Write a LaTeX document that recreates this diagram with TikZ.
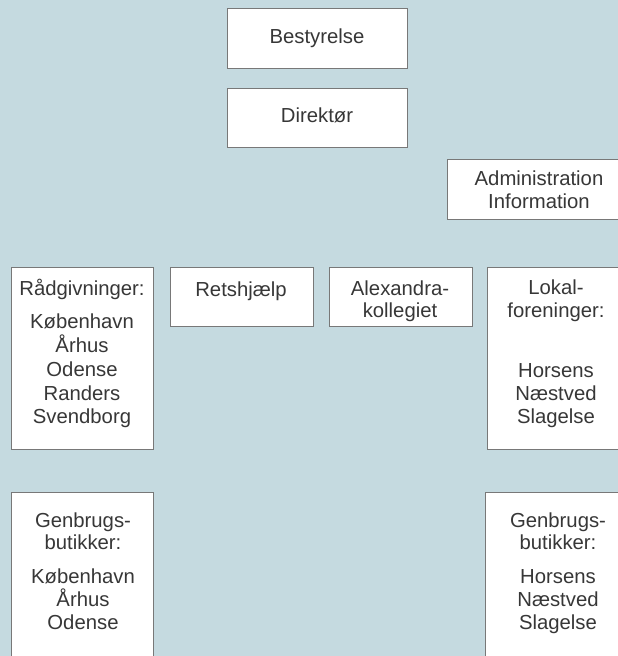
\documentclass[tikz,border=0pt]{standalone}
\usepackage{fontspec}
\setmainfont{Liberation Sans}
\definecolor{bg}{RGB}{197,218,224}
\definecolor{edge}{RGB}{120,120,120}
\definecolor{txt}{RGB}{55,55,55}
\begin{document}
\begin{tikzpicture}[x=1pt,y=-1pt,
  orgbox/.style={draw=edge,line width=0.8pt,fill=white},
  lbl/.style={anchor=base,inner sep=0pt,text=txt,font=\fontsize{20.3}{23}\selectfont}]
\useasboundingbox (0,0) rectangle (618,656);
\fill[bg] (0,0) rectangle (618,656);
\begin{scope}
\clip (0,0) rectangle (618,656);
% boxes
\draw[orgbox] (227,8) rectangle (407,68);
\draw[orgbox] (227,88) rectangle (407,147);
\draw[orgbox] (447,159) rectangle (640,219);
\draw[orgbox] (11,267) rectangle (153,449);
\draw[orgbox] (170,267) rectangle (313,326);
\draw[orgbox] (329,267) rectangle (472,326);
\draw[orgbox] (487,267) rectangle (640,449);
\draw[orgbox] (11,492) rectangle (153,670);
\draw[orgbox] (485,492) rectangle (640,670);
\end{scope}
% texts
\node[lbl] (best) at (317,43) {Bestyrelse};
\node[lbl] (dir) at (317,122) {Direktør};
\node[lbl] (adm1) at (539,185) {Administration};
\node[lbl] (adm2) at (539,208) {Information};
\node[lbl] (rad0) at (82,295) {Rådgivninger:};
\node[lbl] (rad1) at (82,328) {København};
\node[lbl] (rad2) at (82,352) {Århus};
\node[lbl] (rad3) at (82,376) {Odense};
\node[lbl] (rad4) at (82,400) {Randers};
\node[lbl] (rad5) at (82,423) {Svendborg};
\node[lbl] (ret) at (241,296) {Retshjælp};
\node[lbl] (alx1) at (400,295) {Alexandra-};
\node[lbl] (alx2) at (400,317) {kollegiet};
\node[lbl] (lok1) at (556,294) {Lokal-};
\node[lbl] (lok2) at (556,317) {foreninger:};
\node[lbl] (lok3) at (556,377) {Horsens};
\node[lbl] (lok4) at (556,400) {Næstved};
\node[lbl] (lok5) at (556,423) {Slagelse};
\node[lbl] (gl1) at (83,527) {Genbrugs-};
\node[lbl] (gl2) at (83,549) {butikker:};
\node[lbl] (gl3) at (83,583) {København};
\node[lbl] (gl4) at (83,606) {Århus};
\node[lbl] (gl5) at (83,629) {Odense};
\node[lbl] (gr1) at (558,527) {Genbrugs-};
\node[lbl] (gr2) at (558,549) {butikker:};
\node[lbl] (gr3) at (558,583) {Horsens};
\node[lbl] (gr4) at (558,606) {Næstved};
\node[lbl] (gr5) at (558,629) {Slagelse};
\end{tikzpicture}
\end{document}
